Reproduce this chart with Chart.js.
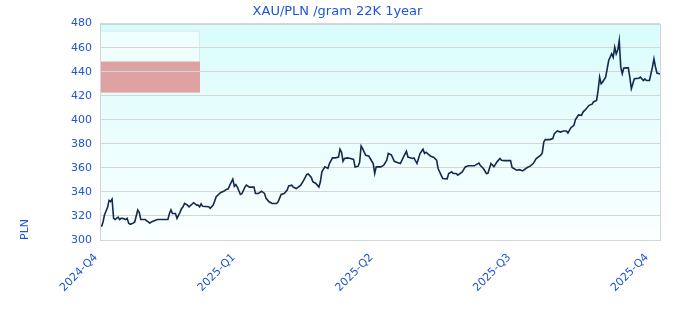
<!DOCTYPE html>
<html>
<head>
<meta charset="utf-8">
<title>XAU/PLN /gram 22K 1year</title>
<script src="https://cdn.jsdelivr.net/npm/chart.js@4.4.1/dist/chart.umd.min.js"></script>
<style>
  html, body { margin: 0; padding: 0; background: #ffffff; }
  #wrap { width: 680px; height: 320px; }
</style>
</head>
<body>
<div id="wrap"><canvas id="goldChart" width="680" height="320"></canvas></div>
<script>
// days since 2024-10-01
const days = [
  1, 2, 3, 5, 6, 7, 8, 9, 10, 11, 12, 13, 14, 15, 17, 18, 19, 20, 21, 22,
  23, 24, 25, 26, 27, 29, 30, 31, 32, 33, 34, 36, 38, 41, 43, 45, 46, 47, 48, 50,
  51, 53, 54, 55, 56, 58, 59, 62, 63, 64, 65, 66, 67, 68, 72, 73, 75, 77, 80, 82,
  84, 85, 86, 88, 89, 90, 91, 92, 93, 94, 96, 97, 99, 102, 103, 105, 107, 109, 110, 112,
  114, 117, 118, 120, 122, 124, 125, 127, 128, 130, 133, 135, 137, 138, 140, 141, 143, 145, 146, 147,
  149, 151, 152, 154, 156, 158, 159, 160, 161, 162, 164, 166, 168, 169, 171, 172, 173, 174, 176, 178,
  179, 181, 182, 183, 186, 188, 190, 191, 193, 195, 197, 199, 201, 203, 204, 207, 208, 210, 212, 214,
  215, 216, 219, 221, 223, 224, 226, 227, 230, 231, 233, 234, 236, 237, 240, 242, 244, 246, 248, 251,
  252, 254, 256, 257, 259, 261, 263, 265, 266, 268, 272, 273, 276, 278, 280, 283, 285, 287, 289, 292,
  293, 294, 295, 298, 300, 301, 303, 305, 307, 309, 310, 312, 314, 315, 317, 319, 320, 322, 324, 326,
  327, 329, 330, 331, 332, 333, 335, 336, 337, 339, 340, 341, 342, 343, 344, 345, 346, 347, 349, 350,
  351, 352, 353, 354, 357, 358, 360, 361, 362, 364, 365, 366, 367, 368, 369, 371
];

// PLN per gram, 22K
const prices = [
  311, 315, 321, 327, 333, 332, 334, 318, 317, 318, 319, 317, 318, 318, 317, 318, 314, 313, 313.5, 314,
  315, 320, 325, 323, 317, 317, 317, 316, 315, 314, 315, 316, 317, 317, 317, 317, 322, 325, 322, 322,
  318, 323, 326, 327.6, 330.4, 329, 327.6, 331, 330, 329, 329, 327.6, 330, 328, 327.6, 326.3, 329, 336, 339.6, 340.6,
  342.3, 342.5, 345.6, 350.6, 344.6, 346, 344, 341, 337.9, 338.5, 344, 345.6, 344, 344, 338.7, 338.7, 340.6, 338.7, 334.6, 331.8,
  330.4, 330.4, 331.8, 337.9, 338.7, 341.5, 345, 345.6, 344, 342.8, 345.6, 349.8, 354.5, 355, 352, 348.4, 347, 344, 348.4, 356.7,
  360.8, 359.5, 363.6, 368.3, 368.3, 369, 375.5, 373, 365.5, 367.8, 368.3, 367.8, 367, 360.8, 361.4, 364.7, 378.2, 376, 370.5, 370,
  367.8, 363.6, 355.3, 360.8, 360.8, 362.2, 366.4, 372, 370.8, 365.5, 364.5, 363.6, 369, 373.8, 369, 367.8, 368.3, 363.6, 371.9, 375.5,
  372, 373, 369.7, 368.9, 366.4, 359.5, 353.9, 351.2, 350.9, 355.3, 356.7, 355.3, 355.3, 354, 356.7, 360.8, 361.7, 361.7, 361.7, 364,
  362, 359.5, 355.3, 355.5, 363.6, 361, 365, 367.8, 366.4, 366, 366, 360.3, 358, 358.5, 357.5, 360.3, 361.4, 363.6, 367.8, 370.5,
  372.4, 381.5, 383.5, 383.5, 384.4, 388.5, 390.7, 389.8, 390.7, 390.7, 389, 393.4, 395.4, 400.1, 404, 403.7, 406.4, 409, 412, 413,
  415, 416.1, 424.4, 435.5, 430, 431.5, 435.5, 442.4, 449.3, 454.9, 452, 460.3, 454.9, 458, 465.9, 443.8, 438.3, 443, 443.2, 443.2,
  435.5, 425.8, 430, 434.1, 434.6, 435.5, 432.7, 434, 432.7, 432.7, 438.3, 443.8, 450.7, 444, 438.8, 438
];

const quarterLabels = ['2024-Q4', '2025-Q1', '2025-Q2', '2025-Q3', '2025-Q4'];
const quarterDays = [0, 91.25, 182.5, 273.75, 365];
const yTicks = [300, 320, 340, 360, 380, 400, 420, 440, 460, 480];

const textBlue = '#1f55d0';
const fontFamily = '"DejaVu Sans", Verdana, sans-serif';

const plotBackground = {
  id: 'plotBackground',
  beforeDraw(chart) {
    const { ctx, chartArea: area } = chart;
    ctx.save();
    const gradient = ctx.createLinearGradient(0, area.top, 0, area.bottom);
    gradient.addColorStop(0, '#d9fcfc');
    gradient.addColorStop(1, '#fbffff');
    ctx.fillStyle = gradient;
    ctx.fillRect(area.left, area.top, area.right - area.left, area.bottom - area.top);

    // flag badge in the top-left corner
    ctx.fillStyle = 'rgba(255, 255, 255, 0.55)';
    ctx.fillRect(area.left, area.top + 7, 100, 31);
    ctx.strokeStyle = 'rgba(190, 225, 225, 0.6)';
    ctx.lineWidth = 1;
    ctx.strokeRect(area.left + 0.5, area.top + 7.5, 99, 31);
    ctx.fillStyle = '#dea2a2';
    ctx.fillRect(area.left, area.top + 38, 100, 31);
    ctx.restore();
  },
  afterDraw(chart) {
    const { ctx, chartArea: area } = chart;
    ctx.save();
    ctx.strokeStyle = '#d4d4d4';
    ctx.lineWidth = 1;
    ctx.strokeRect(Math.round(area.left) + 0.5, Math.round(area.top) + 0.5,
      Math.round(area.right - area.left), Math.round(area.bottom - area.top));
    ctx.restore();
  },
};

new Chart(document.getElementById('goldChart'), {
  type: 'line',
  data: {
    datasets: [
      {
        label: 'XAU/PLN',
        data: days.map((d, i) => ({ x: d, y: prices[i] })),
        borderColor: '#15294d',
        borderWidth: 1.6,
        pointRadius: 0,
        tension: 0,
        fill: false,
      },
    ],
  },
  options: {
    responsive: false,
    animation: false,
    layout: { padding: { left: 15, right: 20, top: 0, bottom: 0 } },
    plugins: {
      legend: { display: false },
      tooltip: { enabled: false },
      title: {
        display: true,
        text: 'XAU/PLN /gram 22K 1year',
        color: textBlue,
        font: { family: fontFamily, size: 13, weight: 'normal' },
        padding: { top: 4, bottom: 4 },
      },
    },
    scales: {
      x: {
        type: 'linear',
        min: 0,
        max: 371,
        afterBuildTicks: (scale) => {
          scale.ticks = quarterDays.map((v) => ({ value: v }));
        },
        afterFit: (scale) => {
          scale.height = 80;
        },
        ticks: {
          color: textBlue,
          font: { family: fontFamily, size: 11 },
          maxRotation: 45,
          minRotation: 45,
          padding: 11,
          labelOffset: -4,
          autoSkip: false,
          callback: (value, index) => quarterLabels[index],
        },
        grid: { display: false, drawTicks: false },
        border: { display: false },
      },
      y: {
        min: 300,
        max: 480,
        afterBuildTicks: (scale) => {
          scale.ticks = yTicks.map((v) => ({ value: v }));
        },
        afterFit: (scale) => {
          scale.width = 85;
        },
        ticks: {
          color: textBlue,
          font: { family: fontFamily, size: 11 },
          padding: 8,
        },
        grid: { color: '#d6d6d6', drawTicks: false },
        border: { display: false },
        title: {
          display: true,
          text: 'PLN',
          align: 'start',
          color: textBlue,
          font: { family: fontFamily, size: 11 },
        },
      },
    },
  },
  plugins: [plotBackground],
});
</script>
</body>
</html>
